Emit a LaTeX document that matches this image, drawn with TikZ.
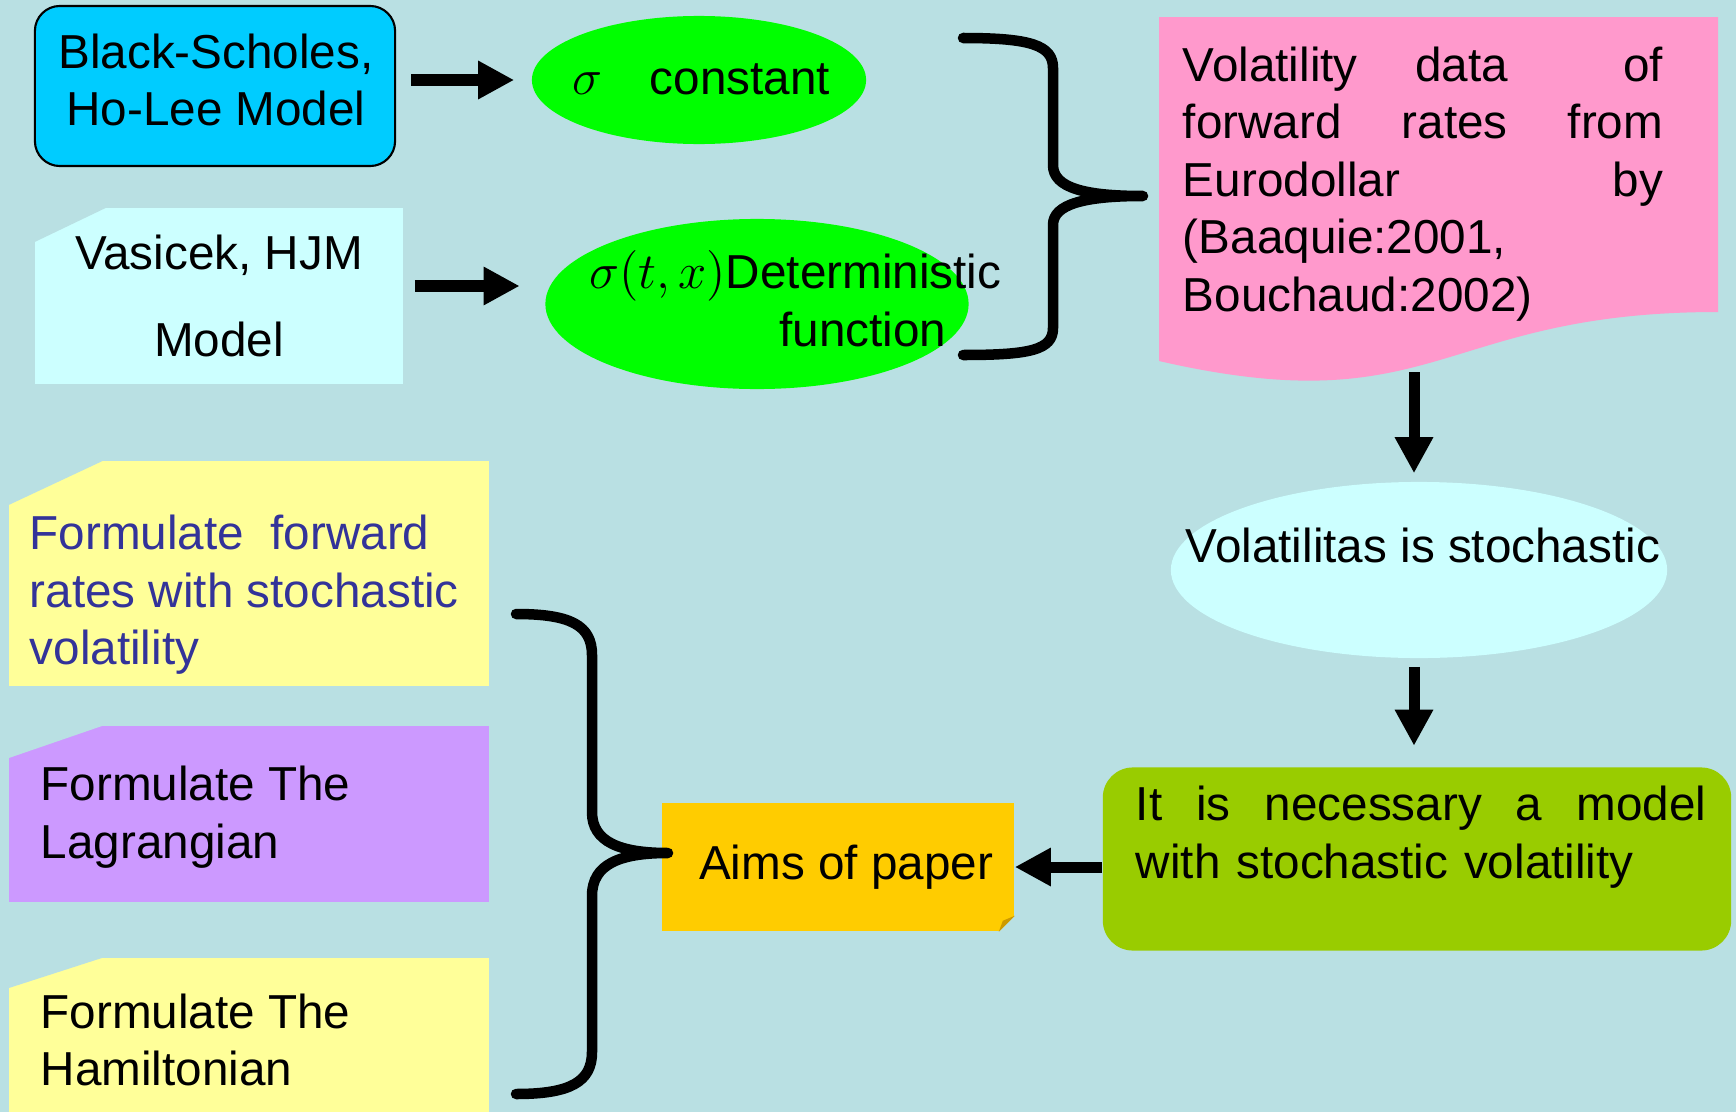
\documentclass[tikz,border=0pt]{standalone}
\usepackage{fontspec}
\setmainfont{Liberation Sans}
\usetikzlibrary{arrows.meta,calc,shapes.geometric}

\definecolor{slidebg}{RGB}{185,224,227}
\definecolor{bscyan}{RGB}{0,204,255}
\definecolor{ovalgreen}{RGB}{0,255,0}
\definecolor{palecyan}{RGB}{204,255,255}
\definecolor{docpink}{RGB}{255,153,204}
\definecolor{noteyellow}{RGB}{255,255,153}
\definecolor{notelilac}{RGB}{204,153,255}
\definecolor{needgreen}{RGB}{153,204,0}
\definecolor{aimsgold}{RGB}{255,204,0}
\definecolor{foldgold}{RGB}{204,153,0}
\definecolor{formblue}{RGB}{51,51,153}

\newcommand{\slidefont}{\fontsize{13.55}{16.36}\selectfont}

\begin{document}
\begin{tikzpicture}[x=0.01cm, y=-0.01cm, font=\slidefont,
  txt/.style={inner sep=0pt},
  oval/.style={ellipse, inner sep=0pt},
  note/.style={inner sep=0pt, minimum width=4.8cm},
  arr/.style={line width=0.11cm, -{Triangle[length=0.36cm,width=0.36cm]}},
  brace/.style={line width=0.105cm, line cap=round, line join=round}]

\useasboundingbox (0,0) rectangle (1736,1112);
\fill[slidebg] (0,0) rectangle (1736,1112);

% Models and their volatility
\node[draw, line width=0.6pt, fill=bscyan, rounded corners=0.25cm,
      minimum width=3.6cm, minimum height=1.6cm] (bs) at (215,86) {};
\node[txt, align=center] (bs-t) at (216,80) {Black-Scholes,\\Ho-Lee Model};

\node[oval, fill=ovalgreen, minimum width=3.34cm, minimum height=1.28cm] (cst) at (699,80) {};
\node[txt, anchor=base] (cst-t) at (701,94) {$\sigma$\quad constant};

\node[fill=palecyan, align=center, minimum width=3.68cm, minimum height=1.76cm] (vas) at (219,296)
  {Vasicek, HJM\\[0.29cm]Model};
\fill[slidebg] (vas.north west) -- ++(73,0) -- ++(-73,35) -- cycle;

\node[oval, fill=ovalgreen, minimum width=4.23cm, minimum height=1.7cm] (det) at (757,304) {};
\node[txt, anchor=east, align=right] (det-t) at (1002,299)
  {$\sigma(t,x)$Deterministic\\function\rule{0.55cm}{0pt}};

% Data
\fill[docpink] (1159,17) -- (1718,17) -- (1718,312)
  .. controls (1438,312) and (1438,425) .. (1159,361) -- cycle;
\node[txt, text width=4.8cm, align=left] (data) at (1423,184)
  {Volatility\hfill data\hfill\hfill of\\forward\hfill rates\hfill from\\Eurodollar\hfill by\\(Baaquie:2001,\\Bouchaud:2002)};
\coordinate (wave) at (1414,360);

\node[oval, fill=palecyan, minimum width=4.96cm, minimum height=1.76cm] (stoch) at (1419,570) {};
\node[txt, anchor=base] (stoch-t) at (1423,562) {Volatilitas is stochastic};

\node[fill=needgreen, rounded corners=0.3cm, minimum width=6.28cm, minimum height=1.83cm] (need) at (1417,859) {};
\node[txt, text width=5.7cm, align=left] (need-t) at (1421,837)
  {It\hfill is\hfill necessary\hfill a\hfill model\\with stochastic volatility};

% Aims
\node[fill=aimsgold, minimum width=3.52cm, minimum height=1.28cm] (aims) at (838,867) {\hspace*{0.16cm}Aims of paper};
\fill[slidebg] (aims.south east) -- ++(0,-16) -- ++(-16,16) -- cycle;
\fill[foldgold] ($(aims.south east)+(0,-16)$) -- ++(-16,16) -- ++(4,-11) -- cycle;

\node[note, fill=noteyellow, minimum height=2.25cm] (f1) at (249,573.5) {};
\fill[slidebg] (f1.north west) -- ++(96,0) -- ++(-96,45) -- cycle;
\node[txt, anchor=west, align=left, text=formblue] (f1-t) at (29,595)
  {Formulate\ \ forward\\rates with stochastic\\volatility};

\node[note, fill=notelilac, minimum height=1.76cm] (f2) at (249,814) {};
\fill[slidebg] (f2.north west) -- ++(96,0) -- ++(-96,33) -- cycle;
\node[txt, anchor=west, align=left] (f2-t) at (40,817) {Formulate The\\Lagrangian};

\node[note, fill=noteyellow, minimum height=1.54cm] (f3) at (249,1035) {};
\fill[slidebg] (f3.north west) -- ++(96,0) -- ++(-96,31) -- cycle;
\node[txt, anchor=west, align=left] (f3-t) at (40,1040) {Formulate The\\Hamiltonian};

% Braces
\draw[brace] (963,38) .. controls (1030,38) and (1053,45) .. (1053,68) -- (1053,165)
  .. controls (1053,188) and (1085,196) .. (1143,196)
  .. controls (1085,196) and (1053,204) .. (1053,225) -- (1053,328)
  .. controls (1053,350) and (1030,355) .. (963,355);
\draw[brace] (516,614) .. controls (570,614) and (592,625) .. (592,655) -- (592,812)
  .. controls (592,842) and (620,853) .. (668,853)
  .. controls (620,853) and (592,864) .. (592,896) -- (592,1052)
  .. controls (592,1082) and (570,1094) .. (516,1094);

% Arrows
\draw[arr, shorten <=0.15cm, shorten >=0.17cm] (bs.east |- cst.west) -- (cst.west);
\draw[arr, shorten <=0.11cm, shorten >=0.25cm] ([yshift=0.1cm]vas.east) -- ([yshift=0.1cm]vas.east -| det.west);
\draw[arr, shorten <=0.12cm, shorten >=0.08cm] (wave) -- (wave |- stoch.north);
\draw[arr, shorten <=0.08cm, shorten >=0.21cm] (stoch.south -| wave) -- (need.north -| wave);
\draw[arr] (need.west |- aims.east) -- (aims.east);

\end{tikzpicture}
\end{document}
